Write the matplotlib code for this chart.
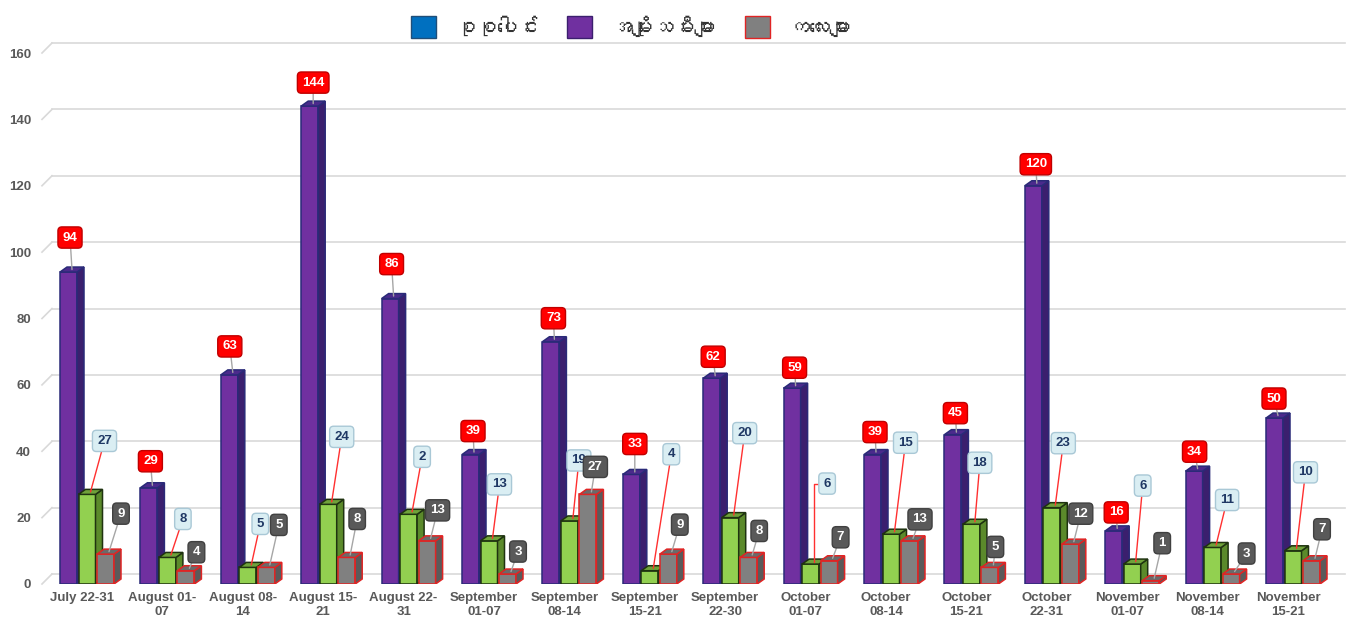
import numpy as np
import matplotlib
matplotlib.use("Agg")
import matplotlib.pyplot as plt
from matplotlib import font_manager
from matplotlib.ft2font import FT2Font
from matplotlib.patches import Polygon, Patch

# --- data -------------------------------------------------------------
weeks = ["July 22-31", "August 01-\n07", "August 08-\n14", "August 15-\n21",
         "August 22-\n31", "September\n01-07", "September\n08-14", "September\n15-21",
         "September\n22-30", "October\n01-07", "October\n08-14", "October\n15-21",
         "October\n22-31", "November\n01-07", "November\n08-14", "November\n15-21"]
total = [94, 29, 63, 144, 86, 39, 73, 33, 62, 59, 39, 45, 120, 16, 34, 50]
women = [27, 8, 5, 24, 21, 13, 19, 4, 20, 6, 15, 18, 23, 6, 11, 10]
children = [9, 4, 5, 8, 13, 3, 27, 9, 8, 7, 13, 5, 12, 1, 3, 7]
# label texts as printed on the picture (some are cut off there)
women_tags = ["27", "8", "5", "24", "2", "13", "19", "4", "20", "6", "15", "18",
              "23", "6", "11", "10"]
legend_names = ["စုစုပေါင်း", "အမျိုးသမီးများ", "ကလေးများ"]
yticks = [0, 20, 40, 60, 80, 100, 120, 140, 160]

# label placement (pixel offsets from the top face of each bar)
red_dx = [-2, -2, -3, 0, -2, -1, -1, 0, -2, -1, -1, -1, -1, -1, -3, -4]
red_dy = [32, 24, 26, 21, 32, 21, 21, 28, 19, 18, 20, 19, 19, 16, 17, 17]
blue_dx = [14, 12, 9, 10, 10, 7, 6, 18, 11, 13, 11, 5, 8, 7, 11, 9]
blue_dy = [51, 36, 41, 65, 55, 54, 58, 114, 82, 78, 89, 59, 62, 76, 45, 76]
blue_elbow = [False] * 9 + [True] + [False] * 6
dark_dx = [12, 7, 9, 7, 7, 7, 4, 8, 7, 8, 7, 2, 7, 8, 12, 7]
dark_dy = [38, 16, 40, 36, 28, 20, 25, 27, 24, 21, 19, 18, 28, 35, 18, 29]


def font_with(ch):
    for f in font_manager.fontManager.ttflist:
        try:
            if FT2Font(f.fname).get_char_index(ord(ch)):
                return f.name
        except Exception:
            pass
    return None


mm_font = font_with("စ")
legend_family = [mm_font, "DejaVu Sans"] if mm_font else ["DejaVu Sans"]
plt.rcParams["font.family"] = ["Liberation Sans", "DejaVu Sans"]

W, H = 1354, 628
fig = plt.figure(figsize=(W / 100, H / 100), dpi=100)
fig.patch.set_facecolor("white")

px_per_cat = 80.4
x0_px = 82
left_px, right_px = 42, 1345
bottom_px, top_px = 584, 53
ax = fig.add_axes([left_px / W, (H - bottom_px) / H,
                   (right_px - left_px) / W, (bottom_px - top_px) / H])
ax.set_xlim((left_px - x0_px) / px_per_cat, (right_px - x0_px) / px_per_cat)
ax.set_ylim(0, 160)
for s in ax.spines.values():
    s.set_visible(False)

px_y = 160 / (bottom_px - top_px)       # data units per pixel (y)
px_x = 1 / px_per_cat                   # data units per pixel (x)
ddx, ddy = 7 * px_x, 5 * px_y           # 3d depth
gx, gy = 10 * px_x, 10 * px_y           # back wall shift

# back wall grid
xl, xr = ax.get_xlim()
for t in yticks:
    ax.plot([xl, xl + gx], [t, t + gy], color="#d9d9d9", lw=1.2, clip_on=False, zorder=0)
    ax.plot([xl + gx, xr], [t + gy, t + gy], color="#d9d9d9", lw=1.2, clip_on=False, zorder=0)

ax.set_yticks(yticks)
ax.set_yticklabels([str(t) for t in yticks], fontsize=9.5, fontweight="bold", color="#595959")
ax.tick_params(axis="y", length=0, pad=8)

x = np.arange(len(weeks))
ax.set_xticks(x)
ax.set_xticklabels(weeks, fontsize=9.5, fontweight="bold", color="#595959", linespacing=1.15)
ax.tick_params(axis="x", length=0, pad=6)

bw = 17 * px_x
offsets = [-13.5 * px_x, 5 * px_x, 23.5 * px_x]
styles = [
    dict(front="#7030a0", side="#3b1f6e", top="#4b2a8c", edge="#2a2a78"),
    dict(front="#92d050", side="#5b8a2b", top="#6fa23a", edge="#1f3310"),
    dict(front="#808080", side="#5a5a5a", top="#6a6a6a", edge="#e02424"),
]


def bars3d(xs, vals, st, z):
    ax.bar(xs, vals, width=bw, color=st["front"], edgecolor=st["edge"], lw=1.1, zorder=z)
    for xc, v in zip(xs, vals):
        r, l = xc + bw / 2, xc - bw / 2
        side = [(r, 0), (r + ddx, ddy), (r + ddx, v + ddy), (r, v)]
        top = [(l, v), (l + ddx, v + ddy), (r + ddx, v + ddy), (r, v)]
        ax.add_patch(Polygon(side, closed=True, fc=st["side"], ec=st["edge"], lw=1.1, zorder=z))
        ax.add_patch(Polygon(top, closed=True, fc=st["top"], ec=st["edge"], lw=1.1, zorder=z))


for k, (vals, st) in enumerate(zip([total, women, children], styles)):
    bars3d(x + offsets[k], vals, st, 2 + k)


def tag(xc, v, text, dx, dy, fc, ec, tc, lc, z, elbow=False):
    arrow = dict(arrowstyle="-", color=lc, lw=1, shrinkA=0, shrinkB=0)
    if elbow:
        arrow["connectionstyle"] = "angle,angleA=0,angleB=90,rad=0"
    ax.annotate(text, xy=(xc + ddx / 2, v + ddy / 2), xytext=(dx, dy),
                textcoords="offset pixels", ha="center", va="center",
                fontsize=9.5, fontweight="bold", color=tc, zorder=z,
                bbox=dict(boxstyle="round,pad=0.35,rounding_size=0.3", fc=fc, ec=ec, lw=1),
                arrowprops=arrow)


for i in range(len(weeks)):
    tag(x[i] + offsets[0], total[i], str(total[i]), red_dx[i], red_dy[i],
        "#ff0000", "#c00000", "white", "#a6a6a6", 10)
    tag(x[i] + offsets[1], women[i], women_tags[i], blue_dx[i], blue_dy[i],
        "#daeef3", "#a9c8d6", "#1f3864", "#ff3030", 11, blue_elbow[i])
    tag(x[i] + offsets[2], children[i], str(children[i]), dark_dx[i], dark_dy[i],
        "#595959", "#404040", "white", "#a6a6a6", 12)

handles = [Patch(fc="#0070c0", ec="#1f4e79"), Patch(fc="#7030a0", ec="#3b1f6e"),
           Patch(fc="#808080", ec="#e02424")]
fig.legend(handles, legend_names, loc="upper center", bbox_to_anchor=(0.466, 1.005),
           ncol=3, frameon=False, handlelength=1.2, handleheight=1.2,
           columnspacing=1.4, handletextpad=0.9,
           prop=dict(family=legend_family, size=15), labelcolor="#333333")

fig.savefig("out.png", dpi=100, facecolor="white")
